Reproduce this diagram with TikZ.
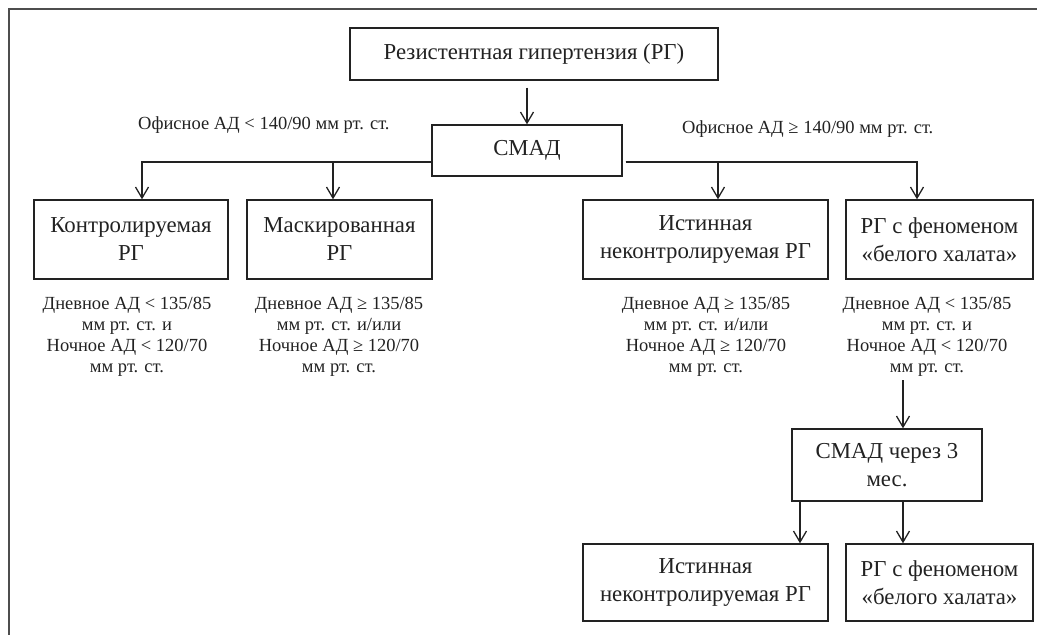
\documentclass[tikz,border=0pt]{standalone}
\usepackage{fontspec}
\setmainfont{Liberation Serif}
\usetikzlibrary{arrows.meta}
\definecolor{ink}{HTML}{222222}
\tikzset{
  box/.style={draw=ink, line width=1.4pt, rectangle, inner sep=2pt, align=center, text=ink,
    font=\fontsize{22.8}{28}\selectfont},
  cond/.style={align=center, text=ink, font=\fontsize{18.5}{21}\selectfont, inner sep=0pt},
  lbl/.style={text=ink, font=\fontsize{18.5}{20}\selectfont, inner sep=0pt},
  conn/.style={draw=ink, line width=1.3pt},
  arr/.style={conn, -{Straight Barb[length=11pt,width=13pt,line width=1.3pt]}},
}
\begin{document}
\begin{tikzpicture}[x=1pt,y=-1pt]
\useasboundingbox (0,0) rectangle (1037,635);
\draw[draw=ink!80, line width=1.6pt] (9,635) -- (9,9) -- (1037,9);

\node[box, minimum width=368pt, minimum height=52pt] (top) at (534,54) {Резистентная гипертензия (РГ)};
\node[box, minimum width=190pt, minimum height=51pt] (smad) at (527,150.5) {СМАД};

\node[lbl, anchor=west] (lo) at (138,125) {Офисное АД < 140/90 мм рт. ст.};
\node[lbl, anchor=west] (hi) at (682,129) {Офисное АД ≥ 140/90 мм рт. ст.};

\node[box, minimum width=194pt, minimum height=79pt] (b1) at (131,239.5) {Контролируемая\\РГ};
\node[box, minimum width=185pt, minimum height=79pt] (b2) at (339.5,239.5) {Маскированная\\РГ};
\node[box, minimum width=245pt, minimum height=79pt] (b3) at (705.5,239.5) {Истинная\\неконтролируемая РГ};
\node[box, minimum width=187pt, minimum height=79pt] (b4) at (939.5,239.5) {РГ с феноменом\\«белого халата»};

\node[cond] (c1) at (127,336.5) {Дневное АД < 135/85\\мм рт. ст. и\\Ночное АД < 120/70\\мм рт. ст.};
\node[cond] (c2) at (339,336.5) {Дневное АД ≥ 135/85\\мм рт. ст. и/или\\Ночное АД ≥ 120/70\\мм рт. ст.};
\node[cond] (c3) at (706,336.5) {Дневное АД ≥ 135/85\\мм рт. ст. и/или\\Ночное АД ≥ 120/70\\мм рт. ст.};
\node[cond] (c4) at (927,336.5) {Дневное АД < 135/85\\мм рт. ст. и\\Ночное АД < 120/70\\мм рт. ст.};

\node[box, minimum width=190pt, minimum height=72pt] (s3) at (887,465) {СМАД через 3\\мес.};
\node[box, minimum width=245pt, minimum height=77pt] (b5) at (705.5,582.5) {Истинная\\неконтролируемая РГ};
\node[box, minimum width=187pt, minimum height=77pt] (b6) at (939.5,582.5) {РГ с феноменом\\«белого халата»};

\coordinate (c4out) at (903,380);

\draw[arr] ([yshift=-7pt]top.south -| smad.north) -- (smad.north);
\draw[arr] ([yshift=-11.5pt]smad.west) -| ([xshift=11pt]b1.north);
\draw[arr] ([yshift=-11.5pt]smad.west) -| ([xshift=-6.5pt]b2.north);
\draw[arr] ([yshift=-11.5pt,xshift=3pt]smad.east) -| ([xshift=12.5pt]b3.north);
\draw[arr] ([yshift=-11.5pt,xshift=3pt]smad.east) -| ([xshift=-22.5pt]b4.north);
\draw[arr] (c4out) -- (c4out |- s3.north);
\draw[arr] ([xshift=-87pt]s3.south) -- ([xshift=-87pt]s3.south |- b5.north);
\draw[arr] ([xshift=16pt]s3.south) -- ([xshift=16pt]s3.south |- b6.north);
\end{tikzpicture}
\end{document}
